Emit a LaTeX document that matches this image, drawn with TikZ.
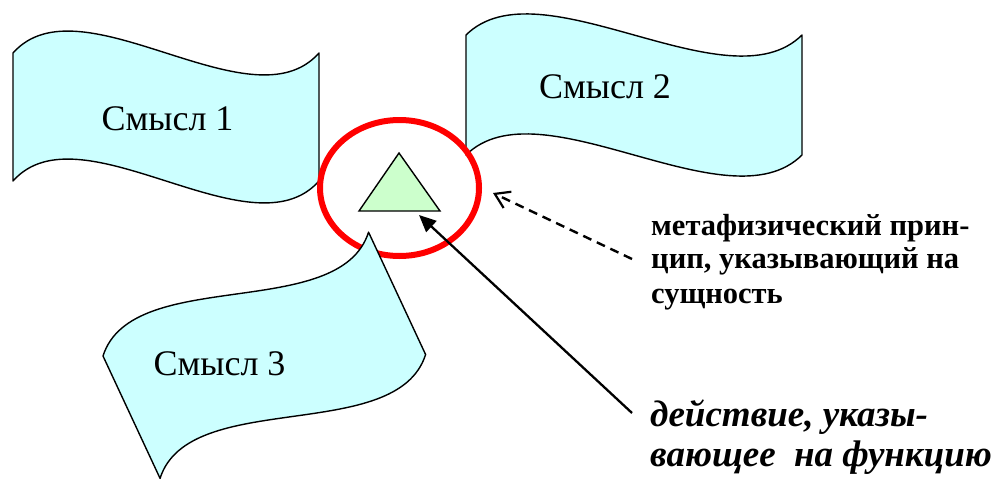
\documentclass[tikz,border=0pt]{standalone}
\usepackage{fontspec}
\setmainfont{Liberation Serif}
\usetikzlibrary{arrows.meta,shapes.geometric}
\definecolor{flagfill}{HTML}{CCFFFF}
\definecolor{trifill}{HTML}{CCFFCC}
\definecolor{ringred}{HTML}{FF0000}
\tikzset{
  wavepath/.style n args={3}{insert path={(0,0) .. controls ({0.22*#1},{-#3}) and ({0.78*#1},{#3}) .. ({#1},0) -- ({#1},{#2}) .. controls ({0.78*#1},{#2+#3}) and ({0.22*#1},{#2-#3}) .. (0,{#2}) -- cycle}},
  flagshape/.style={draw=black, fill=flagfill, line width=1.4pt, line join=round},
  flagtext/.style={anchor=base, inner sep=0pt, font=\fontsize{36}{40}\selectfont},
  ring/.style={ellipse, draw=ringred, line width=6pt, minimum width=159pt, minimum height=136pt, inner sep=0pt},
  tri/.style={draw=black, fill=trifill, line width=1.4pt, line join=miter},
  boldline/.style={anchor=base west, inner sep=0pt, font=\fontsize{30.5}{34}\selectfont\bfseries},
  itline/.style={anchor=base west, inner sep=0pt, font=\fontsize{37}{40}\selectfont\bfseries\itshape},
  solidarrow/.style={line width=2.3pt, -{Triangle[length=17pt,width=15pt]}},
  dasharrow/.style={line width=2.4pt, dash pattern=on 9pt off 6pt, -{Straight Barb[length=14pt,width=18pt,line width=2.2pt]}}
}
\begin{document}
\begin{tikzpicture}[x=1pt,y=-1pt]
\useasboundingbox (0,0) rectangle (1000,479);
% flag 1
\path[flagshape, shift={(13,53)}, wavepath={306}{128}{76}];
\node[flagtext] (s1) at (167.5,130) {Смысл 1};
% flag 2
\path[flagshape, shift={(466,35)}, wavepath={336}{120}{73}];
\node[flagtext] (s2) at (605,98) {Смысл 2};
% ring
\node[ring] (ring) at (399.5,188) {};
% flag 3
\path[flagshape, shift={(103,356)}, rotate=25, wavepath={293}{135}{70}];
\node[flagtext] (s3) at (219.5,375) {Смысл 3};
% triangle
\coordinate (tA) at (399,153);
\coordinate (tB) at (440,211);
\coordinate (tC) at (359,211);
\draw[tri] (tA) -- (tB) -- (tC) -- cycle;
% texts
\node[boldline] (p1) at (651,235) {метафизический прин-};
\node[boldline] (p2) at (651,268) {цип, указывающий на};
\node[boldline] (p3) at (651,303) {сущность};
\node[itline] (f1) at (650,426) {действие, указы-};
\node[itline] (f2) at (650,466) {вающее\ \ на функцию};
% arrows
\coordinate (dashTail) at (632,259);
\coordinate (dashTip) at (493,193);
\coordinate (solidTail) at (632,413);
\coordinate (solidTip) at (419,215);
\draw[dasharrow] (dashTail) -- (dashTip);
\draw[solidarrow] (solidTail) -- (solidTip);
\end{tikzpicture}
\end{document}
